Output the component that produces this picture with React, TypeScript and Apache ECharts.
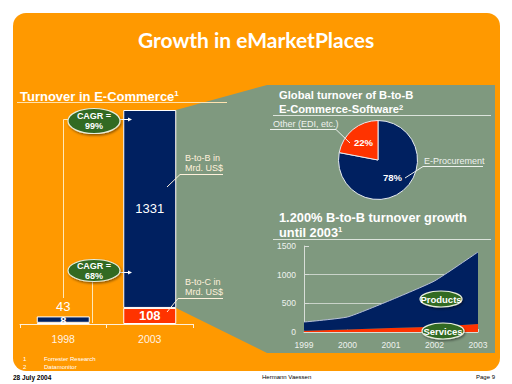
import React, { useEffect, useRef } from "react";
import * as echarts from "echarts";

// ---- data ----
const barCategories = ["1998", "2003"];
const b2cValues = [8, 108];
const b2bValues = [43, 1331];
const cagrLabels = ["CAGR =\n99%", "CAGR =\n68%"];

const pieNames = ["E-Procurement", "Other (EDI, etc.)"];
const pieValues = [78, 22];

const areaYears = ["1999", "2000", "2001", "2002", "2003"];
const servicesValues = [20, 45, 70, 90, 140];
const productsValues = [154, 217, 488, 800, 1255];
const areaSeriesNames = ["Services", "Products"];

const ORANGE = "#FF9900";
const GREEN_PANEL = "#7F997F";
const NAVY = "#002060";
const RED = "#FF3300";
const DARK_GREEN = "#336A22";
const LIGHT = "#FFEFD6";
const FONT = "Liberation Sans, Arial, sans-serif";

function ellipseLabel(cx: number, cy: number, rx: number, ry: number, text: string, fs: number) {
  return [
    {
      type: "ellipse",
      z: 100,
      shape: { cx, cy, rx, ry },
      style: {
        fill: DARK_GREEN,
        stroke: "#E8EEDC",
        lineWidth: 1.2,
        shadowBlur: 2,
        shadowOffsetX: 1,
        shadowOffsetY: 1.5,
        shadowColor: "rgba(0,0,0,0.45)",
      },
    },
    {
      type: "text",
      z: 101,
      x: cx,
      y: cy,
      style: {
        text,
        fill: "#ffffff",
        fontSize: fs,
        fontWeight: "bold",
        fontFamily: FONT,
        align: "center",
        verticalAlign: "middle",
        lineHeight: fs + 1,
      },
    },
  ];
}

function txt(x: number, y: number, text: string, opts: any = {}) {
  return {
    type: "text",
    z: 50,
    x,
    y,
    style: {
      text,
      fill: opts.fill || "#ffffff",
      fontSize: opts.fontSize || 10,
      fontWeight: opts.fontWeight || "normal",
      fontFamily: opts.fontFamily || FONT,
      align: opts.align || "left",
      verticalAlign: "middle",
      rich: opts.rich,
    },
  };
}

function ln(x1: number, y1: number, x2: number, y2: number, color = LIGHT, w = 1) {
  return { type: "line", z: 50, shape: { x1, y1, x2, y2 }, style: { stroke: color, lineWidth: w } };
}

function pl(points: number[][], color = LIGHT, w = 1) {
  return { type: "polyline", z: 50, shape: { points }, style: { stroke: color, lineWidth: w, fill: null } };
}

function arrow(x1: number, x2: number, y: number) {
  return [
    ln(x1, y, x2 - 2, y, "#ffffff", 1),
    { type: "polygon", z: 50, shape: { points: [[x2 - 4, y - 2], [x2, y], [x2 - 4, y + 2]] }, style: { fill: "#ffffff" } },
  ];
}

export default function App() {
  const ref = useRef<HTMLDivElement>(null);
  useEffect(() => {
    if (!ref.current) return;
    const chart = echarts.init(ref.current, null, { renderer: "svg" });
    const barMax = Math.max(...b2cValues.map((v, i) => v + b2bValues[i]));

    const sup = (fs: number) => ({ fontSize: fs, fontWeight: "bold", fill: "#fff", verticalAlign: "top", fontFamily: FONT });

    const graphics: any[] = [
      {
        type: "rect",
        z: -100,
        shape: { x: 13, y: 13, width: 487, height: 358, r: [13, 13, 13, 13] },
        style: { fill: ORANGE },
      },
      {
        type: "polygon",
        z: -99,
        shape: { points: [[176, 110], [267, 85], [495, 85], [495, 353], [267, 353], [176, 308]] },
        style: { fill: GREEN_PANEL },
      },
      {
        type: "text",
        z: 50,
        x: 256,
        y: 39,
        style: {
          text: "Growth in eMarketPlaces",
          fill: "#ffffff",
          fontSize: 21,
          fontWeight: "bold",
          fontFamily: "Lato, Open Sans, sans-serif",
          align: "center",
          verticalAlign: "middle",
        },
      },
      txt(20, 96, "{a|Turnover in E-Commerce}{s|1}", {
        rich: { a: { fontSize: 13, fontWeight: "bold", fill: "#fff", fontFamily: FONT }, s: sup(8) },
      }),
      ln(17, 102.5, 227, 102.5, "#FFE3B0", 1),
      txt(279, 95, "Global turnover of B-to-B", { fontSize: 11.2, fontWeight: "bold" }),
      txt(279, 108.5, "{a|E-Commerce-Software}{s|2}", {
        rich: { a: { fontSize: 11.2, fontWeight: "bold", fill: "#fff", fontFamily: FONT }, s: sup(7.5) },
      }),
      ln(273, 115.5, 491, 115.5, "#DCE4DC", 1),
      txt(279, 217, "1.200% B-to-B turnover growth", { fontSize: 12.8, fontWeight: "bold" }),
      txt(279, 232, "{a|until 2003}{s|1}", {
        rich: { a: { fontSize: 12.8, fontWeight: "bold", fill: "#fff", fontFamily: FONT }, s: sup(7.5) },
      }),
      ln(273, 239.5, 491, 239.5, "#DCE4DC", 1),

      // bar annotations
      txt(185, 158, "B-to-B in", { fontSize: 9, fill: "#FFF1DC" }),
      txt(185, 168, "Mrd. US$", { fontSize: 9, fill: "#FFF1DC" }),
      pl([[223, 174.5], [180, 174.5], [167, 187]], "#FFF1DC"),
      txt(185, 282, "B-to-C in", { fontSize: 9, fill: "#FFF1DC" }),
      txt(185, 292, "Mrd. US$", { fontSize: 9, fill: "#FFF1DC" }),
      pl([[223, 298.5], [178, 298.5], [167, 312]], "#FFF1DC"),

      // CAGR connectors
      pl([[63.5, 298], [63.5, 119.5], [68, 119.5]], "#FFE8B8"),
      ...arrow(120, 132, 119.5),
      pl([[92.5, 281], [92.5, 323]], "#FFE8B8"),
      ...arrow(120, 132, 272.5),
      ...ellipseLabel(94, 121, 26, 12.5, cagrLabels[0], 9),
      ...ellipseLabel(94, 270.5, 26, 11, cagrLabels[1], 9),

      // pie annotations
      txt(273, 124, pieNames[1], { fontSize: 9, fill: "#EEF2EE" }),
      pl([[270, 129.5], [336, 129.5], [350, 143]], "#EEF2EE"),
      txt(424, 161, pieNames[0], { fontSize: 9, fill: "#EEF2EE" }),
      pl([[483, 166.5], [423, 166.5], [405, 178]], "#EEF2EE"),

      // area labels
      ...ellipseLabel(441, 299, 21, 8, areaSeriesNames[1], 9.5),
      ...ellipseLabel(443, 331, 21, 8, areaSeriesNames[0], 9.5),

      // footnotes
      txt(23, 359, "1", { fontSize: 6 }),
      txt(44, 359, "Forrester Research", { fontSize: 6 }),
      txt(23, 367, "2", { fontSize: 6 }),
      txt(44, 367, "Datamonitor", { fontSize: 6 }),
      txt(13, 377, "28 July 2004", { fontSize: 6.5, fill: "#000", fontWeight: "bold" }),
      txt(262, 377, "Hermann Vaessen", { fontSize: 6, fill: "#000" }),
      txt(495, 377, "Page 9", { fontSize: 6, fill: "#000", align: "right" }),
    ];

    chart.setOption({
      animation: false,
      backgroundColor: "#ffffff",
      textStyle: { fontFamily: FONT },
      graphic: { elements: graphics },
      grid: [
        { left: 20, width: 173, top: 110, height: 214 },
        { left: 304, width: 174, top: 246, height: 86 },
      ],
      xAxis: [
        {
          gridIndex: 0,
          type: "category",
          data: barCategories,
          boundaryGap: true,
          axisLine: { lineStyle: { color: "#FFF0D8", width: 1 } },
          axisTick: { show: true, length: 4, lineStyle: { color: "#FFF0D8" } },
          axisLabel: { color: "#FFF3E3", fontSize: 10.5, margin: 9 },
        },
        {
          gridIndex: 1,
          type: "category",
          data: areaYears,
          boundaryGap: false,
          axisLine: { lineStyle: { color: "#D8DED8", width: 1 } },
          axisTick: { show: true, inside: true, length: 3, lineStyle: { color: "#D8DED8" } },
          axisLabel: { color: "#EEF2EE", fontSize: 8.5, margin: 8 },
        },
      ],
      yAxis: [
        { gridIndex: 0, type: "value", min: 0, max: barMax, show: false },
        {
          gridIndex: 1,
          type: "value",
          min: 0,
          max: 1500,
          interval: 500,
          axisLine: { show: true, lineStyle: { color: "#D8DED8" } },
          axisTick: { show: true, inside: true, length: 5, lineStyle: { color: "#D8DED8" } },
          axisLabel: { color: "#EEF2EE", fontSize: 8.5, margin: 8, formatter: (v: number) => String(v) },
          splitLine: {
            show: true,
            lineStyle: { color: ["rgba(0,0,0,0)", "#C9D3C9", "#C9D3C9", "rgba(0,0,0,0)"], width: 1 },
          },
        },
      ],
      series: [
        {
          type: "bar",
          name: "B-to-C",
          xAxisIndex: 0,
          yAxisIndex: 0,
          stack: "t",
          barWidth: 53,
          itemStyle: { color: RED, borderColor: "#ffffff", borderWidth: 1 },
          data: b2cValues.map((v, i) => ({
            value: v,
            label: {
              show: true,
              position: "inside",
              color: "#ffffff",
              fontWeight: "bold",
              fontSize: i === 0 ? 11 : 13,
              offset: i === 0 ? [0, -2] : [0, 0],
            },
          })),
        },
        {
          type: "bar",
          name: "B-to-B",
          xAxisIndex: 0,
          yAxisIndex: 0,
          stack: "t",
          barWidth: 53,
          itemStyle: { color: NAVY, borderColor: "#ffffff", borderWidth: 1 },
          data: b2bValues.map((v, i) => ({
            value: v,
            label: {
              show: true,
              position: i === 0 ? "top" : "inside",
              distance: 3,
              color: "#ffffff",
              fontSize: 13,
            },
          })),
        },
        {
          type: "pie",
          center: [378, 160],
          radius: 39.5,
          startAngle: 90,
          clockwise: true,
          itemStyle: { borderColor: "#E6EAF0", borderWidth: 1 },
          label: {
            show: true,
            position: "inside",
            formatter: "{c}%",
            color: "#ffffff",
            fontWeight: "bold",
            fontSize: 9.5,
          },
          labelLine: { show: false },
          data: pieNames.map((n, i) => ({
            name: n,
            value: pieValues[i],
            itemStyle: { color: i === 0 ? NAVY : RED },
          })),
        },
        {
          type: "line",
          name: areaSeriesNames[0],
          xAxisIndex: 1,
          yAxisIndex: 1,
          stack: "a",
          symbol: "none",
          lineStyle: { width: 0 },
          areaStyle: { color: RED, opacity: 1 },
          data: servicesValues,
        },
        {
          type: "line",
          name: areaSeriesNames[1],
          xAxisIndex: 1,
          yAxisIndex: 1,
          stack: "a",
          symbol: "none",
          smooth: 0.15,
          lineStyle: { width: 1, color: "#B8C0D8" },
          areaStyle: { color: NAVY, opacity: 1 },
          data: productsValues,
        },
      ],
    });
    return () => chart.dispose();
  }, []);
  return (
    <div
      ref={ref}
      style={{ position: "absolute", left: 0, top: 0, width: 512, height: 384 }}
    />
  );
}
